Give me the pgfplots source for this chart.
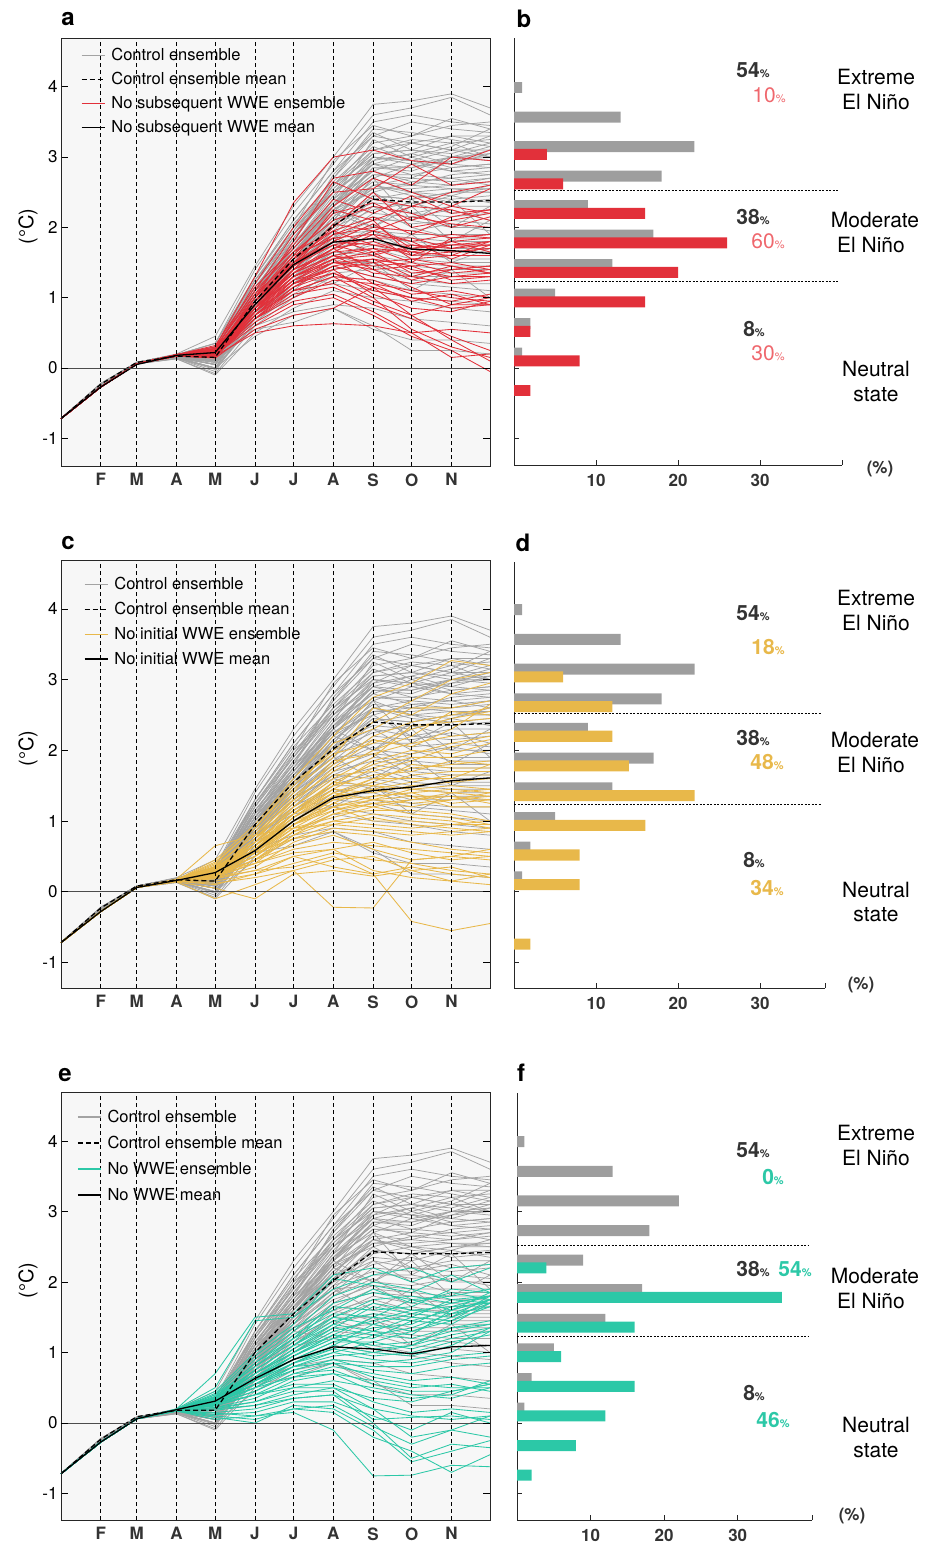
\documentclass[border=0pt]{standalone}
\usepackage{fontspec}
\setmainfont{TeX Gyre Heros}
\usepackage{pgfplots}
\usepackage{pgfplotstable}
\pgfplotsset{compat=1.18}
\definecolor{ctrl}{HTML}{A3A3A3}
\definecolor{cbar}{HTML}{9E9E9E}
\definecolor{cred}{HTML}{E2303A}
\definecolor{credt}{HTML}{EF676D}
\definecolor{cyel}{HTML}{E8B84A}
\definecolor{cteal}{HTML}{2CC8A7}
\definecolor{dtext}{HTML}{333333}
\definecolor{bgc}{HTML}{F7F7F7}
\newcommand{\fs}[1]{\fontsize{#1}{#1}\selectfont}

\pgfplotstableread[header=has colnames]{
0 31 59 90 120 151 181 212 243 273 304 334
-0.72 -0.22 0.08 0.20 0.45 1.45 2.30 3.00 3.75 3.80 3.90 3.70
-0.72 -0.23 0.08 0.19 0.35 1.40 2.20 2.90 3.60 3.70 3.85 3.60
-0.72 -0.24 0.07 0.19 0.30 1.30 2.10 2.80 3.50 3.60 3.50 3.45
-0.72 -0.24 0.07 0.18 0.25 1.20 2.00 2.95 3.45 3.30 3.55 3.40
-0.72 -0.23 0.08 0.17 0.20 1.25 1.90 2.70 3.30 3.50 3.40 3.35
-0.72 -0.22 0.08 0.19 0.30 1.10 1.95 2.60 3.20 3.30 3.45 3.50
-0.72 -0.25 0.07 0.16 0.15 1.15 1.80 2.75 3.35 3.10 3.30 3.30
-0.72 -0.24 0.07 0.18 0.22 1.05 1.85 2.50 3.10 3.25 3.20 3.25
-0.72 -0.24 0.07 0.17 0.18 1.00 1.70 2.40 3.25 3.00 3.15 3.40
-0.72 -0.23 0.08 0.19 0.28 1.20 1.90 2.55 3.05 3.10 3.05 3.20
-0.72 -0.25 0.06 0.15 0.10 0.95 1.65 2.30 2.95 3.20 3.10 3.10
-0.72 -0.24 0.07 0.17 0.20 1.10 1.75 2.45 3.00 2.90 3.00 3.15
-0.72 -0.25 0.07 0.16 0.12 1.00 1.60 2.35 2.90 3.05 3.20 3.00
-0.72 -0.23 0.08 0.18 0.25 1.30 2.05 2.65 3.15 2.95 2.90 3.05
-0.72 -0.26 0.06 0.15 0.05 0.90 1.55 2.20 2.85 2.80 3.00 2.95
-0.72 -0.24 0.07 0.16 0.15 1.05 1.70 2.40 2.80 3.00 2.85 2.90
-0.72 -0.23 0.08 0.19 0.30 1.15 1.80 2.30 2.75 2.70 2.95 3.10
-0.72 -0.25 0.06 0.15 0.08 0.85 1.50 2.10 2.70 2.90 2.80 2.85
-0.72 -0.24 0.07 0.17 0.20 1.00 1.65 2.25 2.65 2.60 2.75 2.80
-0.72 -0.22 0.08 0.19 0.35 1.25 2.00 2.50 2.90 2.75 2.70 2.75
-0.72 -0.26 0.06 0.14 0.00 0.80 1.45 2.05 2.60 2.70 2.65 2.70
-0.72 -0.24 0.07 0.16 0.15 0.95 1.60 2.20 2.55 2.55 2.60 2.65
-0.72 -0.25 0.07 0.16 0.10 0.90 1.50 2.00 2.50 2.65 2.70 2.60
-0.72 -0.23 0.08 0.18 0.25 1.10 1.75 2.35 2.70 2.50 2.55 2.55
-0.72 -0.26 0.06 0.14 -0.05 0.75 1.40 1.95 2.45 2.40 2.50 2.50
-0.72 -0.24 0.07 0.17 0.18 1.00 1.55 2.15 2.60 2.45 2.40 2.45
-0.72 -0.25 0.07 0.16 0.12 0.90 1.45 1.90 2.40 2.50 2.35 2.40
-0.72 -0.23 0.08 0.18 0.22 1.05 1.65 2.10 2.35 2.30 2.45 2.35
-0.72 -0.25 0.06 0.15 0.05 0.85 1.35 1.85 2.30 2.20 2.30 2.30
-0.72 -0.24 0.07 0.16 0.15 0.95 1.50 2.00 2.25 2.35 2.20 2.25
-0.72 -0.23 0.08 0.19 0.28 1.10 1.70 2.25 2.50 2.20 2.15 2.20
-0.72 -0.25 0.06 0.15 0.08 0.80 1.30 1.80 2.20 2.15 2.25 2.10
-0.72 -0.24 0.07 0.17 0.20 0.95 1.45 1.95 2.15 2.05 2.10 2.05
-0.72 -0.24 0.07 0.16 0.10 0.85 1.40 1.85 2.10 2.10 2.00 2.00
-0.72 -0.26 0.06 0.14 0.00 0.70 1.20 1.70 2.00 1.95 2.05 1.95
-0.72 -0.24 0.07 0.16 0.15 0.90 1.35 1.75 1.95 1.90 1.90 1.90
-0.72 -0.23 0.08 0.18 0.25 1.00 1.55 2.05 2.30 2.00 1.85 1.85
-0.72 -0.25 0.06 0.15 0.05 0.75 1.25 1.65 1.90 1.85 1.80 1.80
-0.72 -0.24 0.07 0.16 0.12 0.85 1.30 1.70 1.85 1.80 1.75 1.75
-0.72 -0.24 0.07 0.17 0.18 0.90 1.40 1.80 2.05 1.75 1.70 1.70
-0.72 -0.26 0.06 0.14 -0.02 0.65 1.10 1.55 1.80 1.70 1.65 1.65
-0.72 -0.24 0.07 0.16 0.10 0.80 1.20 1.60 1.75 1.60 1.60 1.60
-0.72 -0.23 0.08 0.18 0.22 0.95 1.45 1.90 1.95 1.65 1.55 1.55
-0.72 -0.25 0.06 0.15 0.05 0.70 1.15 1.50 1.70 1.55 1.50 1.50
-0.72 -0.24 0.07 0.16 0.15 0.85 1.30 1.65 1.60 1.50 1.45 1.45
-0.72 -0.26 0.06 0.13 -0.08 0.60 1.00 1.40 1.55 1.45 1.40 1.40
-0.72 -0.24 0.07 0.16 0.10 0.75 1.20 1.50 1.50 1.35 1.35 1.35
-0.72 -0.24 0.07 0.17 0.20 0.90 1.35 1.60 1.45 1.30 1.30 1.30
-0.72 -0.25 0.06 0.15 0.00 0.65 1.05 1.35 1.40 1.25 1.20 1.20
-0.72 -0.24 0.07 0.16 0.12 0.80 1.15 1.45 1.30 1.20 1.15 1.10
-0.72 -0.25 0.07 0.15 0.05 0.70 1.00 1.30 1.25 1.10 1.05 1.00
-0.72 -0.24 0.07 0.16 0.15 0.80 1.10 1.20 1.10 1.00 0.95 0.90
-0.72 -0.26 0.06 0.13 -0.10 0.50 0.85 1.10 1.00 0.95 0.85 0.80
-0.72 -0.25 0.07 0.15 0.08 0.60 0.80 0.90 0.85 0.70 0.65 0.60
-0.72 -0.25 0.06 0.15 0.00 0.45 0.75 0.85 0.60 0.25 0.25 0.20
-0.72 -0.24 0.07 0.15 0.10 0.55 0.65 0.85 0.55 0.40 0.40 0.35
-0.72 -0.23 0.08 0.19 0.30 1.20 1.90 2.60 3.10 3.20 3.30 3.20
-0.72 -0.23 0.08 0.18 0.25 1.15 1.85 2.55 3.05 3.10 3.00 3.00
-0.72 -0.24 0.07 0.17 0.20 1.10 1.80 2.60 3.00 2.95 3.10 3.30
-0.72 -0.24 0.07 0.16 0.15 1.00 1.75 2.50 2.95 3.05 2.90 2.85
-0.72 -0.23 0.08 0.19 0.30 1.25 1.95 2.70 3.40 3.35 3.25 3.15
-0.72 -0.25 0.07 0.16 0.10 0.95 1.60 2.30 2.85 2.85 2.95 3.00
-0.72 -0.23 0.08 0.18 0.25 1.10 1.70 2.35 2.80 2.65 2.60 2.70
-0.72 -0.24 0.07 0.17 0.18 1.05 1.65 2.30 2.75 2.75 2.85 2.90
-0.72 -0.25 0.06 0.15 0.05 0.85 1.50 2.15 2.55 2.60 2.55 2.50
-0.72 -0.24 0.07 0.17 0.20 1.00 1.60 2.25 2.60 2.50 2.45 2.60
-0.72 -0.24 0.07 0.16 0.12 0.95 1.50 2.05 2.45 2.40 2.50 2.55
-0.72 -0.22 0.08 0.19 0.35 1.30 2.10 2.80 3.30 3.20 3.10 3.00
-0.72 -0.25 0.06 0.15 0.00 0.90 1.60 2.30 3.00 2.95 2.80 2.75
-0.72 -0.24 0.07 0.16 0.15 1.00 1.70 2.40 2.90 2.85 3.00 3.05
-0.72 -0.24 0.07 0.16 0.10 0.90 1.50 1.90 1.60 1.90 1.50 1.70
-0.72 -0.24 0.07 0.17 0.20 1.00 1.60 2.20 2.00 2.30 1.80 2.10
-0.72 -0.25 0.06 0.15 0.05 0.80 1.30 1.20 1.50 1.10 1.40 1.00
-0.72 -0.24 0.07 0.16 0.15 0.95 1.55 2.10 2.70 2.10 2.40 1.90
-0.72 -0.23 0.08 0.18 0.25 1.05 1.70 2.30 2.00 2.40 2.00 2.30
}\ctrlraw
\pgfplotstabletranspose{\ctrlT}{\ctrlraw}

\pgfplotstableread[header=has colnames]{
0 31 59 90 120 151 181 212 243 273 304 334
-0.72 -0.27 0.06 0.19 0.30 1.30 2.35 3.00 3.10 2.95 2.90 3.10
-0.72 -0.27 0.06 0.19 0.25 1.20 2.00 2.70 2.80 2.60 3.00 2.95
-0.72 -0.27 0.06 0.19 0.28 1.10 1.90 2.50 2.55 2.90 2.60 2.65
-0.72 -0.27 0.06 0.18 0.20 1.00 1.80 2.65 2.40 2.30 2.50 2.60
-0.72 -0.27 0.06 0.19 0.32 1.15 1.70 2.30 2.70 2.50 2.30 2.55
-0.72 -0.27 0.06 0.18 0.22 1.05 1.75 2.40 2.20 2.45 2.20 2.25
-0.72 -0.27 0.06 0.18 0.18 0.95 1.60 2.20 2.35 2.10 2.30 2.20
-0.72 -0.27 0.06 0.18 0.25 1.00 1.65 2.10 2.30 2.20 2.00 2.15
-0.72 -0.27 0.06 0.17 0.15 0.90 1.50 2.00 2.50 2.00 2.10 2.20
-0.72 -0.27 0.06 0.19 0.30 1.05 1.55 2.25 2.10 2.30 2.25 2.10
-0.72 -0.27 0.06 0.18 0.20 0.85 1.55 1.95 2.15 1.90 2.15 2.25
-0.72 -0.27 0.06 0.18 0.24 0.95 1.45 2.05 1.95 2.15 2.05 2.00
-0.72 -0.27 0.06 0.17 0.17 0.80 1.40 1.90 2.00 1.95 1.85 1.90
-0.72 -0.27 0.06 0.19 0.26 1.00 1.60 1.85 1.90 1.80 1.90 1.85
-0.72 -0.27 0.06 0.18 0.20 0.90 1.50 1.80 2.05 1.70 1.75 1.80
-0.72 -0.27 0.06 0.18 0.23 0.95 1.45 1.75 1.85 1.85 1.70 1.75
-0.72 -0.27 0.06 0.18 0.19 0.85 1.35 1.70 1.80 1.60 1.80 1.85
-0.72 -0.27 0.06 0.19 0.28 1.10 1.65 1.95 1.75 1.75 1.65 1.70
-0.72 -0.27 0.06 0.18 0.21 0.90 1.40 1.65 1.90 1.55 1.60 1.80
-0.72 -0.27 0.06 0.17 0.16 0.80 1.30 1.60 1.70 1.65 1.75 1.75
-0.72 -0.27 0.06 0.18 0.25 1.00 1.50 1.85 1.65 1.70 1.80 1.65
-0.72 -0.27 0.06 0.18 0.22 0.85 1.35 1.70 1.95 1.80 1.55 1.75
-0.72 -0.27 0.06 0.17 0.18 0.75 1.25 1.55 1.60 1.75 1.70 1.80
-0.72 -0.27 0.06 0.19 0.27 0.95 1.55 1.90 2.10 1.60 1.65 1.70
-0.72 -0.27 0.06 0.18 0.20 0.85 1.40 1.65 1.70 1.50 1.85 1.90
-0.72 -0.27 0.06 0.18 0.24 0.90 1.45 1.80 1.75 1.65 1.60 1.60
-0.72 -0.27 0.06 0.17 0.15 0.75 1.20 1.50 1.55 1.45 1.50 1.40
-0.72 -0.27 0.06 0.18 0.22 0.85 1.35 1.60 1.50 1.55 1.45 1.35
-0.72 -0.27 0.06 0.18 0.19 0.80 1.30 1.55 1.65 1.35 1.40 1.45
-0.72 -0.27 0.06 0.19 0.26 0.95 1.50 1.75 1.60 1.40 1.30 1.30
-0.72 -0.27 0.06 0.18 0.21 0.85 1.30 1.50 1.45 1.50 1.35 1.40
-0.72 -0.27 0.06 0.17 0.17 0.70 1.15 1.45 1.55 1.30 1.45 1.35
-0.72 -0.27 0.06 0.18 0.23 0.90 1.40 1.70 1.40 1.45 1.25 1.30
-0.72 -0.27 0.06 0.18 0.20 0.80 1.25 1.40 1.50 1.25 1.40 1.45
-0.72 -0.27 0.06 0.19 0.25 0.90 1.35 1.60 1.35 1.30 1.20 1.25
-0.72 -0.27 0.06 0.17 0.18 0.75 1.20 1.45 1.30 1.20 1.30 1.35
-0.72 -0.27 0.06 0.18 0.22 0.85 1.30 1.55 1.20 1.10 1.00 0.95
-0.72 -0.27 0.06 0.17 0.16 0.70 1.10 1.30 1.25 1.05 1.10 1.00
-0.72 -0.27 0.06 0.18 0.24 0.85 1.25 1.50 1.40 1.15 0.90 0.90
-0.72 -0.27 0.06 0.18 0.20 0.75 1.15 1.35 1.10 1.00 0.95 1.05
-0.72 -0.27 0.06 0.18 0.19 0.70 1.00 1.25 1.20 0.95 1.05 0.90
-0.72 -0.27 0.06 0.18 0.23 0.80 1.20 1.40 1.05 0.85 0.80 0.95
-0.72 -0.27 0.06 0.17 0.14 0.55 0.75 0.85 1.15 1.00 0.85 0.90
-0.72 -0.27 0.06 0.18 0.21 0.75 1.10 1.20 0.95 0.75 0.90 1.00
-0.72 -0.27 0.06 0.17 0.17 0.50 0.60 0.63 0.60 0.50 0.55 0.50
-0.72 -0.27 0.06 0.18 0.20 0.70 1.05 1.15 0.90 0.70 0.45 0.25
-0.72 -0.27 0.06 0.18 0.22 0.75 1.10 1.30 1.00 0.55 0.30 0.15
-0.72 -0.27 0.06 0.17 0.18 0.65 0.95 1.05 0.80 0.50 0.15 0.20
-0.72 -0.27 0.06 0.18 0.24 0.80 1.20 1.35 1.15 0.75 0.40 0.10
-0.72 -0.27 0.06 0.17 0.19 0.60 0.90 1.00 0.75 0.45 0.25 -0.05
}\redraw
\pgfplotstabletranspose{\redT}{\redraw}

\pgfplotstableread[header=has colnames]{
0 31 59 90 120 151 181 212 243 273 304 334
-0.72 -0.28 0.06 0.17 0.45 0.95 1.60 2.20 2.75 2.95 3.27 3.20
-0.72 -0.28 0.06 0.17 0.40 0.90 1.50 2.00 2.40 2.70 3.00 3.10
-0.72 -0.28 0.06 0.17 0.35 0.85 1.45 1.90 2.60 2.50 2.80 2.95
-0.72 -0.28 0.06 0.17 0.38 0.80 1.40 2.10 2.30 2.60 2.60 2.70
-0.72 -0.28 0.06 0.16 0.30 0.75 1.35 1.80 2.20 2.40 2.50 2.60
-0.72 -0.28 0.06 0.17 0.42 0.90 1.55 1.95 2.10 2.30 2.45 2.55
-0.72 -0.28 0.06 0.16 0.28 0.70 1.30 1.70 2.00 2.20 2.55 2.50
-0.72 -0.28 0.06 0.16 0.33 0.75 1.25 1.75 2.15 2.05 2.30 2.65
-0.72 -0.28 0.06 0.16 0.25 0.65 1.20 1.60 1.90 2.35 2.40 2.45
-0.72 -0.28 0.06 0.17 0.36 0.80 1.30 1.85 1.95 2.10 2.20 2.25
-0.72 -0.28 0.06 0.16 0.30 0.70 1.15 1.55 1.80 1.95 2.10 2.20
-0.72 -0.28 0.06 0.16 0.27 0.60 1.10 1.50 1.85 2.00 1.95 2.10
-0.72 -0.28 0.06 0.16 0.32 0.75 1.20 1.65 1.70 1.85 2.05 2.15
-0.72 -0.28 0.06 0.16 0.24 0.60 1.05 1.45 1.75 1.90 1.90 2.00
-0.72 -0.28 0.06 0.16 0.29 0.65 1.10 1.40 1.60 1.75 1.80 1.85
-0.72 -0.28 0.06 0.17 0.35 0.70 1.15 1.50 1.65 1.70 1.85 1.80
-0.72 -0.28 0.06 0.16 0.22 0.55 1.00 1.35 1.55 1.80 1.75 1.75
-0.72 -0.28 0.06 0.16 0.31 0.65 1.10 1.55 1.50 1.65 1.70 1.70
-0.72 -0.28 0.06 0.16 0.26 0.60 1.05 1.35 1.60 1.60 1.60 1.80
-0.72 -0.28 0.06 0.16 0.28 0.55 0.95 1.30 1.45 1.55 1.65 1.65
-0.72 -0.28 0.06 0.17 0.34 0.70 1.10 1.45 1.40 1.50 1.55 1.60
-0.72 -0.28 0.06 0.16 0.23 0.50 0.95 1.25 1.50 1.45 1.50 1.45
-0.72 -0.28 0.06 0.16 0.30 0.60 1.00 1.30 1.35 1.40 1.45 1.40
-0.72 -0.28 0.06 0.16 0.26 0.55 0.95 1.20 1.30 1.45 1.40 1.35
-0.72 -0.28 0.06 0.16 0.29 0.60 1.00 1.35 1.45 1.35 1.35 1.30
-0.72 -0.28 0.06 0.15 0.21 0.45 0.85 1.15 1.25 1.30 1.40 1.45
-0.72 -0.28 0.06 0.17 0.33 0.65 1.05 1.40 1.30 1.25 1.30 1.35
-0.72 -0.28 0.06 0.16 0.25 0.50 0.90 1.20 1.35 1.40 1.25 1.30
-0.72 -0.28 0.06 0.16 0.27 0.55 0.95 1.25 1.20 1.30 1.35 1.25
-0.72 -0.28 0.06 0.15 0.22 0.45 0.80 1.10 1.25 1.20 1.30 1.40
-0.72 -0.28 0.06 0.16 0.31 0.60 0.95 1.15 1.30 1.35 1.20 1.20
-0.72 -0.28 0.06 0.16 0.24 0.50 0.85 1.10 1.15 1.15 1.10 1.00
-0.72 -0.28 0.06 0.16 0.28 0.55 0.90 1.05 1.20 1.10 1.05 0.95
-0.72 -0.28 0.06 0.15 0.20 0.40 0.80 1.00 1.10 1.05 1.00 0.90
-0.72 -0.28 0.06 0.17 0.35 0.65 1.00 1.20 1.00 1.00 0.95 1.00
-0.72 -0.28 0.06 0.16 0.23 0.45 0.75 0.95 1.05 0.95 0.90 0.85
-0.72 -0.28 0.06 0.16 0.26 0.50 0.85 1.00 0.95 0.90 0.95 0.95
-0.72 -0.28 0.06 0.15 0.19 0.35 0.70 0.90 0.85 0.80 0.85 0.90
-0.72 -0.28 0.06 0.18 0.65 0.80 0.90 0.95 0.90 0.85 0.80 0.85
-0.72 -0.28 0.06 0.16 0.30 0.55 0.75 0.85 0.80 0.70 0.60 0.55
-0.72 -0.28 0.06 0.16 0.22 0.40 0.60 0.70 0.65 0.60 0.55 0.50
-0.72 -0.28 0.06 0.15 0.18 0.30 0.50 0.60 0.70 0.55 0.45 0.50
-0.72 -0.28 0.06 0.16 0.25 0.45 0.65 0.80 0.60 0.45 0.50 0.45
-0.72 -0.28 0.06 0.15 0.15 0.25 0.40 0.55 0.45 0.40 0.30 0.25
-0.72 -0.28 0.06 0.15 0.20 0.30 0.35 0.50 0.25 0.35 0.25 0.20
-0.72 -0.28 0.06 0.16 0.28 0.40 0.55 0.60 0.30 0.20 0.15 0.10
-0.72 -0.28 0.06 0.15 0.12 0.20 0.30 0.45 0.50 0.30 0.15 0.25
-0.72 -0.28 0.06 0.14 -0.10 0.10 0.30 -0.22 -0.23 0.45 0.50 0.60
-0.72 -0.28 0.06 0.14 0.05 -0.10 0.25 0.30 0.22 0.30 0.35 0.20
-0.72 -0.28 0.06 0.15 0.10 0.25 0.50 0.35 0.25 -0.42 -0.55 -0.45
}\yelraw
\pgfplotstabletranspose{\yelT}{\yelraw}

\pgfplotstableread[header=has colnames]{
0 31 59 90 120 151 181 212 243 273 304 334
-0.72 -0.27 0.06 0.20 0.70 1.50 1.55 2.10 2.20 2.00 2.20 2.25
-0.72 -0.27 0.06 0.20 0.50 1.45 1.50 1.90 2.10 2.20 2.00 2.20
-0.72 -0.27 0.06 0.19 0.45 1.00 1.40 2.05 1.95 1.85 2.10 1.85
-0.72 -0.27 0.06 0.19 0.40 0.90 1.30 1.80 2.00 1.90 1.75 1.80
-0.72 -0.27 0.06 0.19 0.35 0.85 1.20 1.70 1.85 1.75 1.80 1.90
-0.72 -0.27 0.06 0.19 0.42 0.95 1.35 1.60 1.90 1.70 1.85 1.75
-0.72 -0.27 0.06 0.19 0.30 0.75 1.10 1.50 1.75 1.80 1.70 1.80
-0.72 -0.27 0.06 0.19 0.38 0.80 1.15 1.65 1.60 1.65 1.90 1.85
-0.72 -0.27 0.06 0.19 0.33 0.70 1.05 1.40 1.70 1.60 1.65 1.70
-0.72 -0.27 0.06 0.19 0.36 0.85 1.25 1.55 1.50 1.75 1.60 1.75
-0.72 -0.27 0.06 0.18 0.28 0.65 1.00 1.35 1.65 1.55 1.70 1.80
-0.72 -0.27 0.06 0.19 0.34 0.75 1.10 1.45 1.55 1.50 1.75 1.70
-0.72 -0.27 0.06 0.19 0.31 0.70 1.00 1.30 1.45 1.60 1.55 1.75
-0.72 -0.27 0.06 0.18 0.27 0.60 0.95 1.25 1.50 1.45 1.60 1.85
-0.72 -0.27 0.06 0.19 0.40 0.80 1.20 1.50 1.40 1.55 1.50 1.70
-0.72 -0.27 0.06 0.19 0.32 0.65 0.95 1.20 1.35 1.40 1.65 1.80
-0.72 -0.27 0.06 0.18 0.29 0.60 0.90 1.15 1.30 1.50 1.45 1.75
-0.72 -0.27 0.06 0.19 0.35 0.70 1.05 1.35 1.25 1.35 1.55 1.65
-0.72 -0.27 0.06 0.18 0.26 0.55 0.85 1.10 1.40 1.30 1.50 1.80
-0.72 -0.27 0.06 0.19 0.30 0.65 0.95 1.25 1.20 1.45 1.40 1.70
-0.72 -0.27 0.06 0.19 0.37 0.75 1.10 1.40 1.30 1.25 1.60 1.75
-0.72 -0.27 0.06 0.19 0.33 0.60 0.90 1.15 1.15 1.30 1.45 1.65
-0.72 -0.27 0.06 0.18 0.28 0.55 0.85 1.05 1.25 1.20 1.35 1.45
-0.72 -0.27 0.06 0.19 0.31 0.65 0.95 1.20 1.10 1.15 1.30 1.40
-0.72 -0.27 0.06 0.19 0.36 0.70 1.00 1.25 1.05 1.10 1.25 1.35
-0.72 -0.27 0.06 0.18 0.25 0.50 0.80 1.00 1.15 1.05 1.20 1.30
-0.72 -0.27 0.06 0.19 0.30 0.60 0.85 1.10 1.00 1.10 1.35 1.40
-0.72 -0.27 0.06 0.19 0.34 0.65 0.90 1.05 0.95 1.00 1.15 1.25
-0.72 -0.27 0.06 0.18 0.27 0.55 0.80 0.95 1.00 0.95 1.10 1.35
-0.72 -0.27 0.06 0.18 0.29 0.50 0.75 0.90 0.85 0.90 1.00 1.30
-0.72 -0.27 0.06 0.19 0.32 0.60 0.85 1.00 0.90 0.85 0.95 1.00
-0.72 -0.27 0.06 0.18 0.26 0.45 0.70 0.85 0.80 0.80 0.90 0.95
-0.72 -0.27 0.06 0.19 0.30 0.55 0.75 0.90 0.75 0.70 0.80 0.85
-0.72 -0.27 0.06 0.18 0.24 0.40 0.65 0.80 0.70 0.60 0.65 0.55
-0.72 -0.27 0.06 0.19 0.33 0.55 0.80 0.85 0.65 0.55 0.50 0.50
-0.72 -0.27 0.06 0.18 0.22 0.35 0.60 0.70 0.60 0.50 0.55 0.45
-0.72 -0.27 0.06 0.18 0.28 0.45 0.70 0.75 0.55 0.45 0.45 0.55
-0.72 -0.27 0.06 0.18 0.20 0.30 0.50 0.60 0.50 0.40 0.35 0.50
-0.72 -0.27 0.06 0.19 0.31 0.50 0.65 0.70 0.45 0.35 0.40 0.60
-0.72 -0.27 0.06 0.18 0.18 0.25 0.40 0.50 0.35 0.30 0.45 0.55
-0.72 -0.27 0.06 0.18 0.25 0.40 0.55 0.55 0.30 0.15 0.20 0.15
-0.72 -0.27 0.06 0.17 0.15 0.20 0.35 0.40 0.20 0.10 0.05 0.10
-0.72 -0.27 0.06 0.18 0.22 0.30 0.45 0.45 0.05 0.08 0.10 0.05
-0.72 -0.27 0.06 0.17 0.12 0.15 0.30 0.30 0.10 -0.10 0.15 0.00
-0.72 -0.27 0.06 0.18 0.27 0.40 0.50 0.50 0.20 -0.20 -0.10 0.10
-0.72 -0.27 0.06 0.17 0.10 0.05 0.20 0.25 -0.05 -0.30 -0.10 -0.20
-0.72 -0.27 0.06 0.18 0.20 0.25 0.35 0.40 0.00 -0.50 -0.30 -0.35
-0.72 -0.27 0.06 0.17 0.08 0.00 0.25 0.20 -0.10 -0.55 -0.40 -0.25
-0.72 -0.27 0.06 0.17 0.14 0.10 0.20 0.15 -0.20 -0.40 -0.70 -0.45
-0.72 -0.27 0.06 0.17 0.05 0.10 0.15 -0.10 -0.75 -0.74 -0.60 -0.62
}\tealraw
\pgfplotstabletranspose{\tealT}{\tealraw}

\pgfplotsset{
  lineax/.style={
    scale only axis, width=429pt, height=428pt,
    xmin=0, xmax=334,
    axis background/.style={fill=bgc},
    xtick={31,59,90,120,151,181,212,243,273,304},
    xticklabels={F,M,A,M,J,J,A,S,O,N},
    xticklabel style={font=\bfseries\fs{17}, text=dtext, yshift=-4pt},
    ytick={-1,0,1,2,3,4},
    yticklabel style={font=\fs{17}},
    /pgf/number format/assume math mode=true,
    xmajorgrids,
    major grid style={black, dash pattern=on 4pt off 3pt, line width=0.7pt},
    xtick style={draw=none},
    ytick style={black, line width=0.7pt},
    major tick length=7pt,
    tick align=inside,
    extra y ticks={0}, extra y tick labels={},
    extra y tick style={grid=major, major grid style={solid, black!70, line width=0.9pt}},
    axis on top,
    axis line style={black!85, line width=0.9pt},
    ylabel={(°C)},
    ylabel style={font=\fs{20}, at={(axis description cs:-0.077,0.56)}, anchor=center},
    legend style={draw=none, fill=none, anchor=north west, font=\fs{16.5},
      inner sep=1pt, nodes={inner sep=1pt}},
    legend cell align=left,
    legend image code/.code={\draw[##1] (0pt,0pt) -- (23pt,0pt); \path (28pt,0pt);},
  },
  barax/.style={
    scale only axis,
    xmin=0,
    axis x line=bottom, axis y line=left,
    axis line style={-, black!85, line width=0.8pt},
    xtick={10,20,30},
    xticklabel style={font=\bfseries\fs{17}, text=dtext, yshift=-6pt},
    /pgf/number format/assume math mode=true,
    ytick={-1,0,1,2,3,4}, yticklabels={},
    tick align=inside, major tick length=5pt,
    tick style={black!85, line width=0.8pt},
    extra x tick labels={},
  },
  gbar/.style={xbar, bar width=0.156, bar shift=0pt, fill=cbar, draw=none, forget plot},
  sep/.style={black, dash pattern=on 2pt off 1.5pt, line width=0.7pt, forget plot},
  ens/.style={line width=0.75pt, forget plot},
}

\begin{document}
\begin{tikzpicture}[x=1pt,y=1pt]
\useasboundingbox (0,0) rectangle (935,-1545);

% ---------------- panel a ----------------
\begin{axis}[lineax, at={(61pt,-466pt)}, anchor=south west, ymin=-1.394, ymax=4.694,
  legend style={at={(axis description cs:0.044,0.981)}, row sep=8.3pt}]
\addlegendimage{ctrl, line width=1.2pt}\addlegendentry{Control ensemble}
\addlegendimage{black, dash pattern=on 5pt off 3pt, line width=1.3pt}\addlegendentry{Control ensemble mean}
\addlegendimage{cred, line width=1.2pt}\addlegendentry{No subsequent WWE ensemble}
\addlegendimage{black, line width=1.3pt}\addlegendentry{No subsequent WWE mean}
\pgfplotsinvokeforeach{1,...,75}{\addplot[ctrl, ens] table[x=colnames, y index=#1] {\ctrlT};}
\pgfplotsinvokeforeach{1,...,50}{\addplot[cred, ens, line width=0.85pt] table[x=colnames, y index=#1] {\redT};}
\addplot[black, dash pattern=on 5pt off 3pt, line width=1.3pt, forget plot] coordinates {(0,-0.72)(31,-0.23)(59,0.08)(90,0.17)(120,0.15)(151,0.95)(181,1.55)(212,2.02)(243,2.40)(273,2.36)(304,2.36)(334,2.38)};
\addplot[black, line width=1.3pt, forget plot] coordinates {(0,-0.72)(31,-0.27)(59,0.05)(90,0.18)(120,0.22)(151,0.90)(181,1.47)(212,1.79)(243,1.84)(273,1.69)(304,1.67)(334,1.63)};
\end{axis}

% ---------------- panel c ----------------
\begin{axis}[lineax, at={(61pt,-988pt)}, anchor=south west, ymin=-1.362, ymax=4.692,
  legend style={at={(axis description cs:0.051,0.965)}, row sep=9.3pt}]
\addlegendimage{ctrl, line width=1.2pt}\addlegendentry{Control ensemble}
\addlegendimage{black, dash pattern=on 5pt off 3pt, line width=1.3pt}\addlegendentry{Control ensemble mean}
\addlegendimage{cyel, line width=1.2pt}\addlegendentry{No initial WWE ensemble}
\addlegendimage{black, line width=1.3pt}\addlegendentry{No initial WWE mean}
\pgfplotsinvokeforeach{1,...,75}{\addplot[ctrl, ens] table[x=colnames, y index=#1] {\ctrlT};}
\pgfplotsinvokeforeach{1,...,50}{\addplot[cyel, ens, line width=0.85pt] table[x=colnames, y index=#1] {\yelT};}
\addplot[black, dash pattern=on 5pt off 3pt, line width=1.3pt, forget plot] coordinates {(0,-0.72)(31,-0.23)(59,0.08)(90,0.17)(120,0.15)(151,0.95)(181,1.55)(212,2.02)(243,2.40)(273,2.36)(304,2.36)(334,2.38)};
\addplot[black, line width=1.3pt, forget plot] coordinates {(0,-0.72)(31,-0.28)(59,0.06)(90,0.16)(120,0.27)(151,0.58)(181,1.00)(212,1.33)(243,1.43)(273,1.48)(304,1.57)(334,1.61)};
\end{axis}

% ---------------- panel e ----------------
\begin{axis}[lineax, at={(61pt,-1520pt)}, anchor=south west, ymin=-1.376, ymax=4.695,
  legend style={at={(axis description cs:0.035,0.963)}, row sep=10.3pt}]
\addlegendimage{ctrl, line width=1.2pt}\addlegendentry{Control ensemble}
\addlegendimage{black, dash pattern=on 5pt off 3pt, line width=1.3pt}\addlegendentry{Control ensemble mean}
\addlegendimage{cteal, line width=1.2pt}\addlegendentry{No WWE ensemble}
\addlegendimage{black, line width=1.3pt}\addlegendentry{No WWE mean}
\pgfplotsinvokeforeach{1,...,75}{\addplot[ctrl, ens] table[x=colnames, y index=#1] {\ctrlT};}
\pgfplotsinvokeforeach{1,...,50}{\addplot[cteal, ens, line width=0.85pt] table[x=colnames, y index=#1] {\tealT};}
\addplot[black, dash pattern=on 5pt off 3pt, line width=1.3pt, forget plot] coordinates {(0,-0.72)(31,-0.23)(59,0.09)(90,0.18)(120,0.18)(151,1.00)(181,1.55)(212,2.02)(243,2.43)(273,2.40)(304,2.40)(334,2.42)};
\addplot[black, line width=1.3pt, forget plot] coordinates {(0,-0.72)(31,-0.27)(59,0.06)(90,0.19)(120,0.31)(151,0.63)(181,0.90)(212,1.08)(243,1.05)(273,0.98)(304,1.08)(334,1.10)};
\end{axis}

% ---------------- panel b ----------------
\begin{axis}[barax, at={(514pt,-465pt)}, anchor=south west, width=328pt, height=427pt,
  xmax=40, ymin=-1.38, ymax=4.694, extra x ticks={40}]
\addplot[gbar] coordinates {(1,3.99)(13,3.57)(22,3.15)(18,2.73)(9,2.31)(17,1.89)(12,1.47)(5,1.05)(2,0.63)(1,0.21)};
\addplot[gbar, fill=cred] coordinates {(4,3.04)(6,2.62)(16,2.20)(26,1.78)(20,1.36)(16,0.94)(2,0.52)(8,0.10)(2,-0.32)};
\addplot[sep] coordinates {(0,2.525)(39.5,2.525)};
\addplot[sep] coordinates {(0,1.23)(39.5,1.23)};
\end{axis}

% ---------------- panel d ----------------
\begin{axis}[barax, at={(514pt,-988pt)}, anchor=south west, width=311pt, height=426pt,
  xmax=37.9, ymin=-1.362, ymax=4.665, extra x ticks={37.9}]
\addplot[gbar] coordinates {(1,3.99)(13,3.57)(22,3.15)(18,2.73)(9,2.31)(17,1.89)(12,1.47)(5,1.05)(2,0.63)(1,0.21)};
\addplot[gbar, fill=cyel] coordinates {(6,3.04)(12,2.62)(12,2.20)(14,1.78)(22,1.36)(16,0.94)(8,0.52)(8,0.10)(2,-0.74)};
\addplot[sep] coordinates {(0,2.525)(37.5,2.525)};
\addplot[sep] coordinates {(0,1.23)(37.5,1.23)};
\end{axis}

% ---------------- panel f ----------------
\begin{axis}[barax, at={(517pt,-1520pt)}, anchor=south west, width=295pt, height=427pt,
  xmax=40.1, ymin=-1.376, ymax=4.68, extra x ticks={40.1}]
\addplot[gbar] coordinates {(1,3.99)(13,3.57)(22,3.15)(18,2.73)(9,2.31)(17,1.89)(12,1.47)(5,1.05)(2,0.63)(1,0.21)};
\addplot[gbar, fill=cteal] coordinates {(4,2.20)(36,1.78)(16,1.36)(6,0.94)(16,0.52)(12,0.10)(8,-0.32)(2,-0.74)};
\addplot[sep] coordinates {(0,2.525)(39.6,2.525)};
\addplot[sep] coordinates {(0,1.23)(39.6,1.23)};
\end{axis}

% ---------------- panel letters ----------------
\node[font=\bfseries\fs{24}] at (68,-19) {a};
\node[font=\bfseries\fs{24}] at (524,-19) {b};
\node[font=\bfseries\fs{24}] at (68,-543) {c};
\node[font=\bfseries\fs{24}] at (523,-543) {d};
\node[font=\bfseries\fs{24}] at (65,-1075) {e};
\node[font=\bfseries\fs{24}] at (521,-1073) {f};

% ---------------- annotations b ----------------
\node[font=\bfseries\fs{21}, text=dtext] at (753,-70) {54{\fs{11}\%}};
\node[font=\fs{21}, text=credt] at (769,-95) {10{\fs{11}\%}};
\node[font=\fs{21}] at (876,-77) {Extreme};
\node[font=\fs{21}] at (876,-102) {El Niño};
\node[font=\bfseries\fs{21}, text=dtext] at (753,-217) {38{\fs{11}\%}};
\node[font=\fs{21}, text=credt] at (768,-241) {60{\fs{11}\%}};
\node[font=\fs{21}] at (875,-220) {Moderate};
\node[font=\fs{21}] at (871,-245) {El Niño};
\node[font=\bfseries\fs{21}, text=dtext] at (754,-329) {8{\fs{11}\%}};
\node[font=\fs{21}, text=credt] at (768,-353) {30{\fs{11}\%}};
\node[font=\fs{21}] at (876,-369) {Neutral};
\node[font=\fs{21}] at (876,-395) {state};
\node[font=\bfseries\fs{17}, text=dtext] at (880,-469) {(\%)};

% ---------------- annotations d ----------------
\node[font=\bfseries\fs{21}, text=dtext] at (753,-613) {54{\fs{11}\%}};
\node[font=\bfseries\fs{21}, text=cyel] at (768,-647) {18{\fs{11}\%}};
\node[font=\fs{21}] at (876,-598) {Extreme};
\node[font=\fs{21}] at (876,-623) {El Niño};
\node[font=\bfseries\fs{21}, text=dtext] at (753,-738) {38{\fs{11}\%}};
\node[font=\bfseries\fs{21}, text=cyel] at (767,-762) {48{\fs{11}\%}};
\node[font=\fs{21}] at (875,-740) {Moderate};
\node[font=\fs{21}] at (871,-765) {El Niño};
\node[font=\bfseries\fs{21}, text=dtext] at (754,-860) {8{\fs{11}\%}};
\node[font=\bfseries\fs{21}, text=cyel] at (767,-888) {34{\fs{11}\%}};
\node[font=\fs{21}] at (876,-890) {Neutral};
\node[font=\fs{21}] at (876,-915) {state};
\node[font=\bfseries\fs{17}, text=dtext] at (861,-985) {(\%)};

% ---------------- annotations f ----------------
\node[font=\bfseries\fs{21}, text=dtext] at (753,-1150) {54{\fs{11}\%}};
\node[font=\bfseries\fs{21}, text=cteal] at (773,-1177) {0{\fs{11}\%}};
\node[font=\fs{21}] at (876,-1133) {Extreme};
\node[font=\fs{21}] at (876,-1158) {El Niño};
\node[font=\bfseries\fs{21}, text=dtext] at (753,-1269) {38{\fs{11}\%}};
\node[font=\bfseries\fs{21}, text=cteal] at (795,-1269) {54{\fs{11}\%}};
\node[font=\fs{21}] at (875,-1276) {Moderate};
\node[font=\fs{21}] at (871,-1301) {El Niño};
\node[font=\bfseries\fs{21}, text=dtext] at (754,-1393) {8{\fs{11}\%}};
\node[font=\bfseries\fs{21}, text=cteal] at (773,-1420) {46{\fs{11}\%}};
\node[font=\fs{21}] at (876,-1425) {Neutral};
\node[font=\fs{21}] at (876,-1451) {state};
\node[font=\bfseries\fs{17}, text=dtext] at (852,-1516) {(\%)};
\end{tikzpicture}
\end{document}
